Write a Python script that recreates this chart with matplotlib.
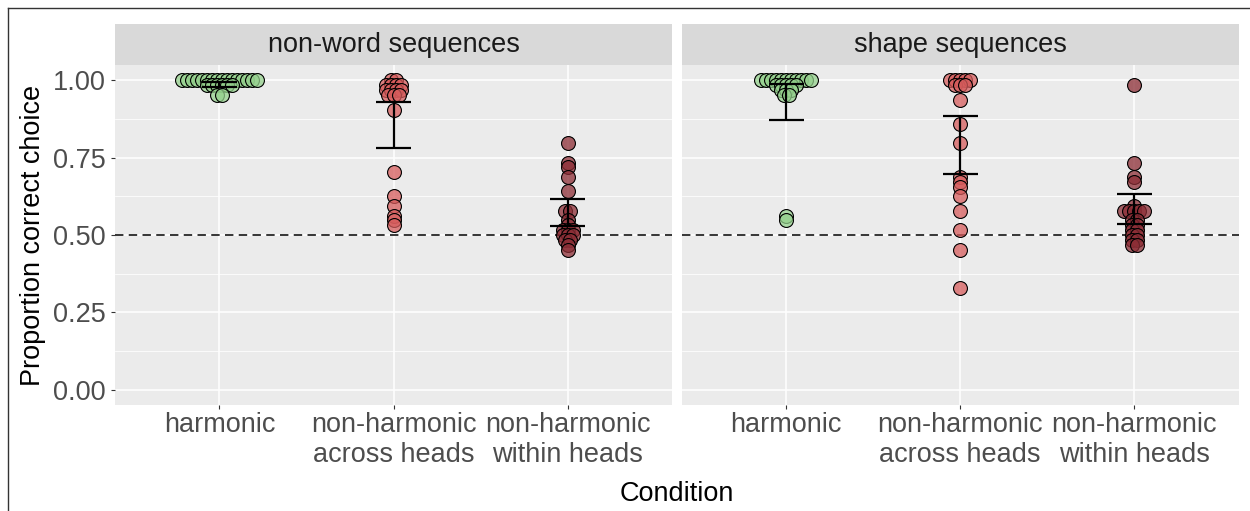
import matplotlib
matplotlib.use("Agg")
import matplotlib.pyplot as plt
from matplotlib.lines import Line2D

plt.rcParams['font.family'] = ['Liberation Sans', 'DejaVu Sans']

# 数据：每个面板、每个条件下的个体正确率
panels = ["non-word sequences", "shape sequences"]
categories = ["harmonic", "non-harmonic\nacross heads", "non-harmonic\nwithin heads"]

nw_harmonic = [1.000, 1.000, 1.000, 1.000, 1.000, 1.000, 1.000, 1.000,
               1.000, 1.000, 1.000, 1.000, 1.000, 1.000, 1.000, 1.000,
               0.984, 0.984, 0.984, 0.984, 0.984, 0.984, 0.953, 0.953]
nw_across = [1.000, 1.000, 0.984, 0.984, 0.984, 0.984, 0.969, 0.969, 0.969,
             0.969, 0.953, 0.953, 0.953, 0.906, 0.703, 0.625, 0.594, 0.563,
             0.547, 0.531]
nw_within = [0.797, 0.734, 0.719, 0.688, 0.641, 0.578, 0.578, 0.547, 0.531,
             0.516, 0.516, 0.516, 0.500, 0.500, 0.500, 0.484, 0.484, 0.469,
             0.453]
sh_harmonic = [1.000, 1.000, 1.000, 1.000, 1.000, 1.000, 1.000, 1.000,
               1.000, 1.000, 1.000, 0.984, 0.984, 0.984, 0.984, 0.984,
               0.969, 0.969, 0.969, 0.953, 0.953, 0.563, 0.547]
sh_across = [1.000, 1.000, 1.000, 1.000, 1.000, 0.984, 0.984, 0.984, 0.938,
             0.859, 0.797, 0.688, 0.672, 0.656, 0.625, 0.578, 0.516, 0.453,
             0.328]
sh_within = [0.984, 0.734, 0.688, 0.672, 0.594, 0.578, 0.578, 0.578, 0.578,
             0.578, 0.547, 0.547, 0.531, 0.531, 0.516, 0.516, 0.500, 0.500,
             0.484, 0.484, 0.469, 0.469]

# 误差线（下限 / 上限）
nw_err_low = [0.980, 0.780, 0.529]
nw_err_high = [0.995, 0.930, 0.616]
sh_err_low = [0.871, 0.697, 0.535]
sh_err_high = [0.989, 0.884, 0.632]

panel_data = [[nw_harmonic, nw_across, nw_within],
              [sh_harmonic, sh_across, sh_within]]
panel_err = [(nw_err_low, nw_err_high), (sh_err_low, sh_err_high)]

fills = [(0.58, 0.82, 0.55, 0.75), (0.84, 0.36, 0.36, 0.75), (0.55, 0.18, 0.21, 0.75)]

W, H = 1250, 511
FS = 19.5
fig = plt.figure(figsize=(W / 100, H / 100), dpi=100)


def px(x0, y0, x1, y1):
    return [x0 / W, 1 - y1 / H, (x1 - x0) / W, (y1 - y0) / H]


def dot_stack(vals, binwidth=0.012, spacing=0.0288):
    # 类似 geom_dotplot 的居中堆叠
    vals = sorted(vals, reverse=True)
    xs, ys = [], []
    i = 0
    while i < len(vals):
        j = i
        while j < len(vals) and vals[i] - vals[j] < binwidth:
            j += 1
        grp = vals[i:j]
        yc = (max(grp) + min(grp)) / 2
        n = len(grp)
        for k in range(n):
            xs.append((k - (n - 1) / 2) * spacing)
            ys.append(yc)
        i = j
    return xs, ys


lefts = [115, 681.7]
for p in range(2):
    x0 = lefts[p]
    ax = fig.add_axes(px(x0, 65, x0 + 557, 405))
    ax.set_facecolor('#EBEBEB')
    ax.set_xlim(0.4, 3.6)
    ax.set_ylim(-0.05, 1.05)
    for s in ax.spines.values():
        s.set_visible(False)
    for yv in [0.125, 0.375, 0.625, 0.875]:
        ax.axhline(yv, color='white', lw=0.55, zorder=0)
    for yv in [0, 0.25, 0.5, 0.75, 1.0]:
        ax.axhline(yv, color='white', lw=1.1, zorder=0)
    for xv in [1, 2, 3]:
        ax.axvline(xv, color='white', lw=1.1, zorder=0)
    ax.axhline(0.5, color='black', lw=1.1, ls=(0, (5.5, 3.5)), zorder=1)

    for c in range(3):
        xs, ys = dot_stack(panel_data[p][c])
        ax.scatter([c + 1 + x for x in xs], ys, s=100, facecolors=[fills[c]],
                   edgecolors='black', linewidths=0.8, zorder=3)
        lo, hi = panel_err[p][0][c], panel_err[p][1][c]
        ax.vlines(c + 1, lo, hi, color='black', lw=1.6, zorder=4)
        ax.hlines([lo, hi], c + 1 - 0.1, c + 1 + 0.1, color='black', lw=1.6, zorder=4)

    ax.set_xticks([1, 2, 3])
    ax.set_xticklabels(categories, fontsize=FS, color='#4D4D4D', linespacing=1.2)
    ax.set_yticks([0, 0.25, 0.5, 0.75, 1.0])
    ax.tick_params(axis='both', color='#333333', length=3, width=0.8)
    ax.tick_params(axis='x', pad=2)
    ax.tick_params(axis='y', pad=4)
    if p == 0:
        ax.set_yticklabels(["0.00", "0.25", "0.50", "0.75", "1.00"], fontsize=FS, color='#4D4D4D')
    else:
        ax.set_yticklabels([])
        ax.tick_params(axis='y', length=0)

    # 分面标题条
    sax = fig.add_axes(px(x0, 24.3, x0 + 557, 65))
    sax.set_facecolor('#D9D9D9')
    sax.set_xticks([])
    sax.set_yticks([])
    for s in sax.spines.values():
        s.set_visible(False)
    sax.text(0.5, 0.5, panels[p], ha='center', va='center', fontsize=FS,
             color='#1A1A1A', transform=sax.transAxes)

fig.text(677 / W, 1 - 500.7 / H, "Condition", ha='center', va='baseline', fontsize=FS)
fig.text(33 / W, 1 - 235 / H, "Proportion correct choice", ha='center', va='center',
         rotation=90, fontsize=FS)

# 外框（左、上）
fig.add_artist(Line2D([7.8 / W, 7.8 / W], [0, 1 - 8.5 / H], transform=fig.transFigure,
                      color='#333333', lw=1.0))
fig.add_artist(Line2D([7.8 / W, 1], [1 - 8.5 / H, 1 - 8.5 / H], transform=fig.transFigure,
                      color='#333333', lw=1.0))

fig.savefig("out.png", dpi=100)
